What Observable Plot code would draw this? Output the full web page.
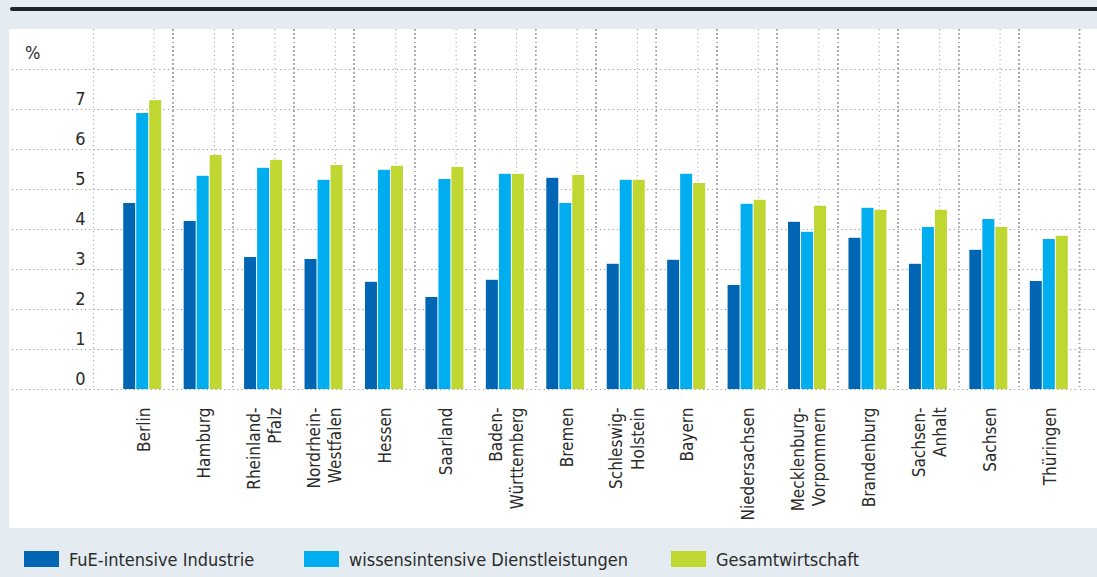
<!DOCTYPE html>
<html>
<head>
<meta charset="utf-8">
<script src="https://cdn.jsdelivr.net/npm/d3@7"></script>
<script src="https://cdn.jsdelivr.net/npm/@observablehq/plot@0.6"></script>
<style>
  html, body { margin: 0; padding: 0; }
  body { width: 1097px; height: 577px; background: #e4ebf1; position: relative; overflow: hidden;
         font-family: "Liberation Sans Narrow", "DejaVu Sans Condensed", sans-serif; color: #2b2b2b; }
  #topline { position: absolute; left: 10px; top: 7px; width: 1090px; height: 4px; background: #222; border-radius: 2px; }
  #panel { position: absolute; left: 9px; top: 29px; width: 1088px; height: 499px; background: #fff; }
  #panel svg { display: block; }
  #unit { position: absolute; left: 25px; top: 42px; font-size: 18px; }
  .leg { position: absolute; top: 551px; height: 16px; display: flex; align-items: center; font-size: 18px; white-space: nowrap; }
  .leg .sw { width: 35px; height: 16px; margin-right: 10px; }
</style>
</head>
<body>
<div id="topline"></div>
<div id="panel"></div>
<div id="unit">%</div>
<div id="legend"></div>
<script>
const states = ["Berlin","Hamburg","Rheinland-Pfalz","Nordrhein-Westfalen","Hessen","Saarland","Baden-Württemberg","Bremen","Schleswig-Holstein","Bayern","Niedersachsen","Mecklenburg-Vorpommern","Brandenburg","Sachsen-Anhalt","Sachsen","Thüringen"];
const tickLabels = ["Berlin","Hamburg","Rheinland-\nPfalz","Nordrhein-\nWestfalen","Hessen","Saarland","Baden-\nWürttemberg","Bremen","Schleswig-\nHolstein","Bayern","Niedersachsen","Mecklenburg-\nVorpommern","Brandenburg","Sachsen-\nAnhalt","Sachsen","Thüringen"];
const series = ["FuE-intensive Industrie","wissensintensive Dienstleistungen","Gesamtwirtschaft"];
const colors = ["#0066b3","#00aeef","#bfd730"];
const fue  = [4.65,4.2,3.3,3.25,2.68,2.3,2.73,5.28,3.13,3.23,2.6,4.18,3.78,3.13,3.48,2.7];
const wiss = [6.9,5.33,5.53,5.23,5.48,5.25,5.38,4.65,5.23,5.38,4.63,3.93,4.53,4.05,4.25,3.75];
const ges  = [7.22,5.85,5.73,5.6,5.58,5.55,5.38,5.35,5.23,5.15,4.73,4.58,4.48,4.48,4.05,3.83];
const yTicks = [0,1,2,3,4,5,6,7,8];
const yLabels = [0,1,2,3,4,5,6,7];

const valuesBySeries = [fue, wiss, ges];
const data = [];
states.forEach((s, i) => series.forEach((k, j) => data.push({state: s, series: k, value: valuesBySeries[j][i]})));
const labelOf = new Map(states.map((s, i) => [s, tickLabels[i]]));

const dotted = {stroke: "#9a9a9a", strokeOpacity: 1, strokeWidth: 1.2, strokeDasharray: "1.2,3.1"};
const dottedV = {stroke: "#aaaaaa", strokeOpacity: 1, strokeWidth: 1.1, strokeDasharray: "1.2,3.1"};

const chart = Plot.plot({
  width: 1088,
  height: 499,
  marginTop: 0,
  marginBottom: 139,
  marginLeft: 103,
  marginRight: 18,
  style: {fontFamily: '"Liberation Sans Narrow", "DejaVu Sans Condensed", sans-serif', fontSize: "18px", color: "#2b2b2b", background: "transparent"},
  fx: {domain: states, padding: 0, round: false},
  x: {domain: series, paddingInner: 0.077, paddingOuter: 0.863, round: false, axis: null},
  y: {domain: [0, 9]},
  color: {domain: series, range: colors},
  marks: [
    Plot.gridY(yTicks, {...dotted}),
    Plot.axisY(yTicks, {anchor: "left", tickSize: 103, tickFormat: () => "", label: null, ...dotted}),
    Plot.axisY(yTicks, {anchor: "right", tickSize: 18, tickFormat: () => "", label: null, ...dotted}),
    Plot.axisY(yLabels, {anchor: "left", tickSize: 0, tickPadding: 27, dy: -10, label: null, fontSize: 18, fill: "#2b2b2b"}),
    Plot.gridFx(states, {dx: 30.22, ...dottedV}),
    Plot.gridFx([states[0]], {dx: -49.2, ...dottedV}),
    Plot.barY(data, {fx: "state", x: "series", y: "value", fill: "series"}),
    Plot.axisFx({anchor: "bottom", tickSize: 0, tickPadding: 18, tickRotate: -90, tickFormat: d => labelOf.get(d), label: null, fontSize: 17, lineHeight: 1.25, fill: "#2b2b2b"})
  ]
});
document.getElementById("panel").appendChild(chart);

const legendLefts = [24, 304, 671];
const legend = document.getElementById("legend");
series.forEach((s, i) => {
  const item = document.createElement("div");
  item.className = "leg";
  item.style.left = legendLefts[i] + "px";
  const sw = document.createElement("span");
  sw.className = "sw";
  sw.style.background = colors[i];
  const t = document.createElement("span");
  t.textContent = s;
  item.appendChild(sw);
  item.appendChild(t);
  legend.appendChild(item);
});
</script>
</body>
</html>
